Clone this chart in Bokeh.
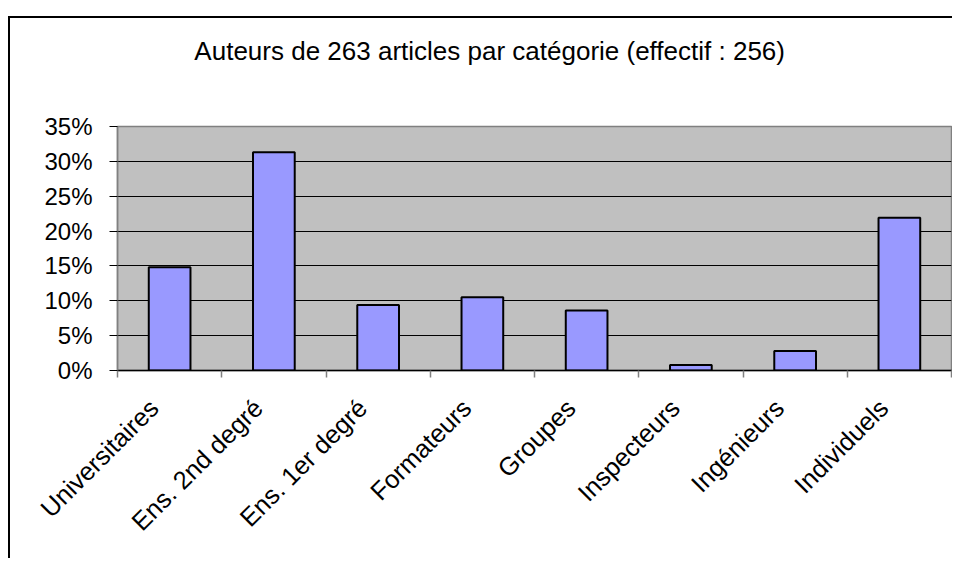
from math import pi

from bokeh.plotting import figure
from bokeh.models import FixedTicker, PrintfTickFormatter, Range1d, LinearAxis
from bokeh.embed import file_html
from bokeh.resources import INLINE

# ---- data ----
categories = ["Universitaires", "Ens. 2nd degré", "Ens. 1er degré", "Formateurs",
              "Groupes", "Inspecteurs", "Ingénieurs", "Individuels"]
percentages = [14.8, 31.3, 9.4, 10.5, 8.6, 0.8, 2.8, 21.9]
y_ticks = [0, 5, 10, 15, 20, 25, 30, 35]
title_text = "Auteurs de 263 articles par catégorie (effectif : 256)"

n = len(categories)
centers = [i + 0.5 for i in range(n)]
bounds = list(range(n + 1))
label_pos = [c - 0.15 for c in centers]   # rotated labels sit slightly left of bar centre
title_pos = 3.57                          # horizontal centre of the title (chart centre, left of frame centre)

FONT = "Liberation Sans"

p = figure(width=944, height=542, output_backend="svg", toolbar_location=None,
           x_range=Range1d(0, n), y_range=Range1d(y_ticks[0], y_ticks[-1]),
           min_border_left=109, min_border_right=1, min_border_top=110,
           min_border_bottom=188, margin=(16, 0, 0, 8),
           styles={"box-shadow": "inset 2px 2px 0 0 #000000"})

p.border_fill_color = None
p.background_fill_color = "#C0C0C0"
p.outline_line_color = "#808080"
p.outline_line_width = 1.5

xa = p.below[0]
ya = p.left[0]

# title, drawn as the single label of an otherwise invisible top axis
title_axis = LinearAxis(ticker=FixedTicker(ticks=[title_pos], minor_ticks=[]),
                        major_label_overrides={title_pos: title_text},
                        axis_line_color=None, major_tick_line_color=None,
                        minor_tick_line_color=None, major_tick_out=0, major_tick_in=0,
                        minor_tick_out=0, minor_tick_in=0,
                        major_label_standoff=61,
                        major_label_text_font=FONT,
                        major_label_text_font_size="26px",
                        major_label_text_color="#000000")
p.add_layout(title_axis, "above")

# bars
p.vbar(x=centers, top=percentages, width=0.4, bottom=0,
       fill_color="#9999FF", line_color="#000000", line_width=2)

# x axis: ticks between categories (minor), labels near centres
xa.ticker = FixedTicker(ticks=label_pos, minor_ticks=bounds)
xa.major_label_overrides = {c: name for c, name in zip(label_pos, categories)}
xa.major_tick_out = 0
xa.major_tick_in = 0
xa.minor_tick_out = 7
xa.minor_tick_in = 0
xa.minor_tick_line_color = "#808080"
xa.minor_tick_line_width = 1.5
xa.axis_line_color = "#000000"
xa.axis_line_width = 1.5
xa.major_label_orientation = pi / 4
xa.major_label_standoff = 26
xa.major_label_text_font = FONT
xa.major_label_text_font_size = "25.5px"
xa.major_label_text_color = "#000000"

# y axis
ya.ticker = FixedTicker(ticks=y_ticks, minor_ticks=[])
ya.formatter = PrintfTickFormatter(format="%d%%")
ya.major_tick_out = 8
ya.major_tick_in = 0
ya.major_tick_line_color = "#000000"
ya.minor_tick_line_color = None
ya.axis_line_color = "#808080"
ya.axis_line_width = 1.5
ya.major_label_standoff = 17
ya.major_label_text_font = FONT
ya.major_label_text_font_size = "24px"
ya.major_label_text_color = "#000000"

# grid
p.xgrid.visible = False
p.ygrid.ticker = FixedTicker(ticks=y_ticks)
p.ygrid.grid_line_color = "#000000"
p.ygrid.grid_line_width = 1

open("out.html", "w").write(file_html(p, INLINE))
